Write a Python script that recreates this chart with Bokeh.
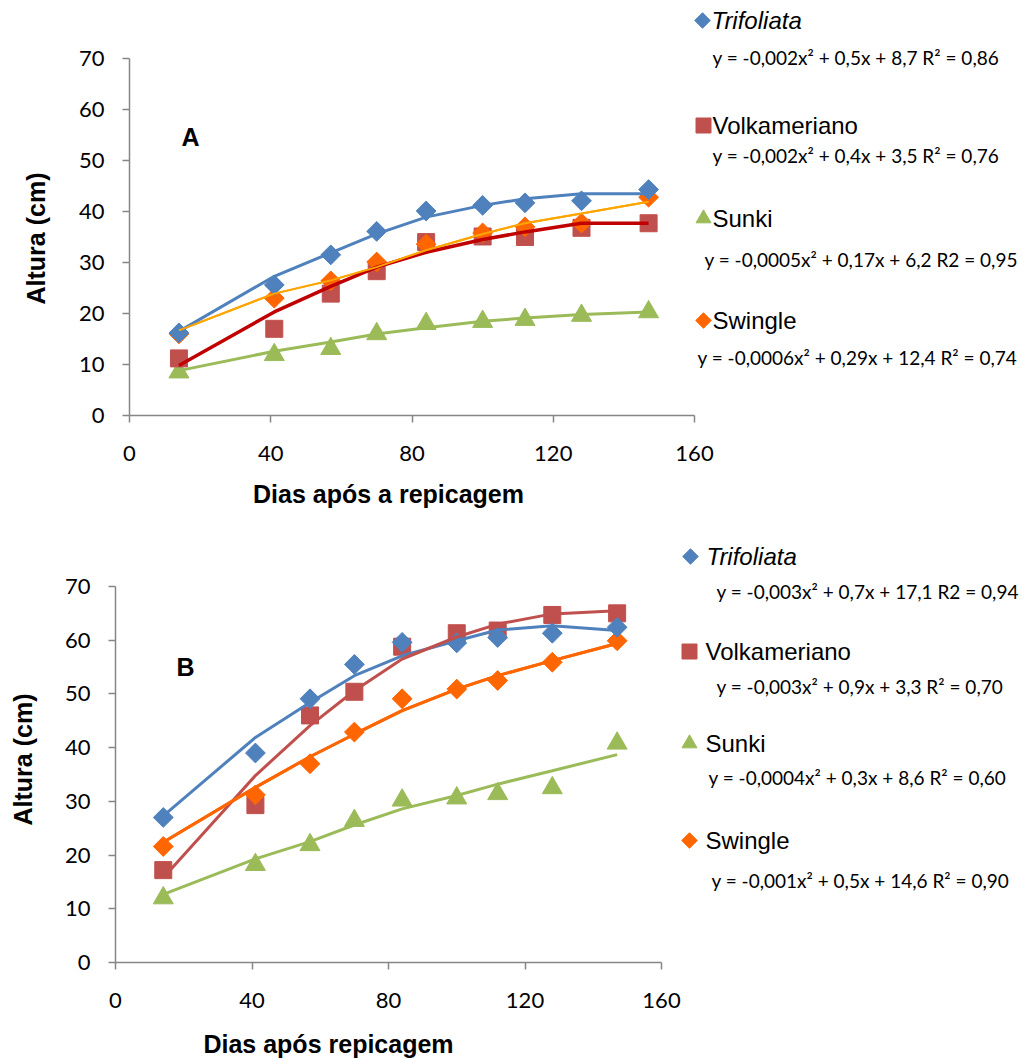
import math
from bokeh.plotting import figure
from bokeh.layouts import column
from bokeh.models import Range1d, FixedTicker, Label, LinearAxis
from bokeh.embed import file_html
from bokeh.resources import INLINE

# ---------------- data ----------------
days = [14, 41, 57, 70, 84, 100, 112, 128, 147]
series_names = ["Trifoliata", "Volkameriano", "Sunki", "Swingle"]

# Panel A observed
a_trifoliata = [16.2, 25.6, 31.5, 36.1, 40.1, 41.2, 41.7, 42.1, 44.3]
a_volkameriano = [11.2, 17.0, 23.9, 28.3, 34.0, 35.1, 35.0, 36.8, 37.7]
a_sunki = [8.5, 11.9, 13.1, 16.0, 18.0, 18.4, 18.8, 19.6, 20.3]
a_swingle = [16.0, 23.0, 26.4, 30.1, 33.6, 35.8, 37.0, 37.7, 42.8]
# Panel A trend lines
a_trifoliata_fit = [16.5, 27.3, 31.9, 35.6, 38.9, 41.2, 42.5, 43.5, 43.5]
a_volkameriano_fit = [9.8, 20.3, 25.3, 29.1, 32.0, 34.5, 36.0, 37.7, 37.7]
a_sunki_fit = [8.8, 12.6, 14.4, 16.0, 17.2, 18.5, 19.1, 19.8, 20.3]
a_swingle_fit = [16.7, 23.9, 26.5, 29.1, 32.4, 35.6, 37.7, 39.6, 41.9]
a_equations = [
    "y = -0,002x\u00b2 + 0,5x + 8,7 R\u00b2 = 0,86",
    "y = -0,002x\u00b2 + 0,4x + 3,5 R\u00b2 = 0,76",
    "y = -0,0005x\u00b2 + 0,17x + 6,2 R2 = 0,95",
    "y = -0,0006x\u00b2 + 0,29x + 12,4 R\u00b2 = 0,74",
]

# Panel B observed
b_trifoliata = [27.0, 39.0, 49.1, 55.5, 59.6, 59.5, 60.5, 61.3, 62.4]
b_volkameriano = [17.2, 29.3, 46.0, 50.4, 58.8, 61.3, 61.8, 64.7, 65.0]
b_sunki = [12.0, 18.2, 21.9, 26.4, 30.2, 30.6, 31.4, 32.5, 40.8]
b_swingle = [21.6, 31.2, 37.0, 42.9, 49.1, 50.9, 52.5, 55.9, 59.9]
# Panel B trend lines
b_trifoliata_fit = [27.3, 41.9, 48.4, 53.4, 57.1, 59.9, 61.9, 62.7, 61.8]
b_volkameriano_fit = [15.8, 34.8, 44.1, 50.6, 56.5, 60.6, 63.0, 64.9, 65.5]
b_sunki_fit = [12.7, 19.3, 22.5, 25.6, 28.6, 31.1, 33.2, 35.7, 38.7]
b_swingle_fit = [22.4, 32.6, 38.3, 42.5, 46.9, 50.9, 53.4, 56.2, 59.4]
b_equations = [
    "y = -0,003x\u00b2 + 0,7x + 17,1 R2 = 0,94",
    "y = -0,003x\u00b2 + 0,9x + 3,3 R\u00b2 = 0,70",
    "y = -0,0004x\u00b2 + 0,3x + 8,6 R\u00b2 = 0,60",
    "y = -0,001x\u00b2 + 0,5x + 14,6 R\u00b2 = 0,90",
]

x_ticks = [0, 40, 80, 120, 160]
y_ticks = [0, 10, 20, 30, 40, 50, 60, 70]

C_BLUE = "#4F81BD"
C_RED = "#C0504D"
C_GREEN = "#9BBB59"
C_ORANGE = "#FF6600"

TICK_FONT = "Lato"
ARIAL = "Liberation Sans"
AXIS_GRAY = "#868686"
DIAMOND_ANGLE = math.pi / 4


def style_axis(ax, ticks, bounds, standoff):
    ax.ticker = FixedTicker(ticks=ticks)
    ax.bounds = bounds
    ax.fixed_location = 0
    ax.axis_line_color = AXIS_GRAY
    ax.axis_line_width = 1.5
    ax.major_tick_line_color = AXIS_GRAY
    ax.major_tick_line_width = 1.5
    ax.major_tick_out = 7
    ax.major_tick_in = 0
    ax.minor_tick_line_color = None
    ax.major_label_text_font = TICK_FONT
    ax.major_label_text_font_size = "22px"
    ax.major_label_text_color = "#000000"
    ax.major_label_standoff = standoff


def make_panel(geom, xtitle, obs, fits, fit_styles, letter, title_pos, legend_geom, equations):
    # geom: figure height, pixel x of day 0, pixel span of 0..160, pixel y of 0 cm, pixel span of 0..70
    height, x0, xspan, y0, yspan = geom
    W = 1026
    kx = 160.0 / xspan
    ky = 70.0 / yspan
    p = figure(width=W, height=height, frame_width=W, frame_height=height,
               x_range=Range1d(-x0 * kx, (W - x0) * kx),
               y_range=Range1d(-(height - y0) * ky, y0 * ky),
               x_axis_location=None, y_axis_location=None,
               output_backend="svg", toolbar_location=None,
               min_border_left=0, min_border_right=0, min_border_top=0, min_border_bottom=0)
    p.outline_line_color = None
    p.grid.visible = False

    xaxis = LinearAxis()
    style_axis(xaxis, x_ticks, (0, 160), 23)
    yaxis = LinearAxis()
    style_axis(yaxis, y_ticks, (0, 70), 18)
    p.add_layout(xaxis, "below")
    p.add_layout(yaxis, "left")

    # pixel (relative to this figure) -> data, used only for placing texts
    def dx(px):
        return (px - x0) * kx

    def dy(py):
        return (y0 - py) * ky

    tri, volk, sun, swi = obs
    f_tri, f_volk, f_sun, f_swi = fits
    p.line(days, f_sun, line_color=fit_styles[2][0], line_width=fit_styles[2][1])
    p.line(days, f_swi, line_color=fit_styles[3][0], line_width=fit_styles[3][1])
    p.scatter(days, sun, marker="triangle", size=20, fill_color=C_GREEN, line_color=C_GREEN)
    p.scatter(days, volk, marker="square", size=17, fill_color=C_RED, line_color=C_RED)
    p.scatter(days, swi, marker="square", angle=DIAMOND_ANGLE, size=14,
              fill_color=C_ORANGE, line_color=C_ORANGE)
    p.scatter(days, tri, marker="square", angle=DIAMOND_ANGLE, size=14,
              fill_color=C_BLUE, line_color=C_BLUE)
    p.line(days, f_tri, line_color=fit_styles[0][0], line_width=fit_styles[0][1])
    p.line(days, f_volk, line_color=fit_styles[1][0], line_width=fit_styles[1][1])
    p.line(days, f_swi, line_color=fit_styles[3][0], line_width=fit_styles[3][1])

    lx, ly, xtx, xty, ytx, yty = title_pos
    p.add_layout(Label(x=dx(lx), y=dy(ly), text=letter, text_font=ARIAL,
                       text_font_style="bold", text_font_size="25px", text_align="center",
                       text_baseline="middle", text_color="#000000"))
    p.add_layout(Label(x=dx(xtx), y=dy(xty), text=xtitle, text_font=ARIAL,
                       text_font_style="bold", text_font_size="25px", text_align="center",
                       text_baseline="middle", text_color="#000000"))
    p.add_layout(Label(x=dx(ytx), y=dy(yty), text="Altura (cm)", text_font=ARIAL, angle=math.pi / 2,
                       text_font_style="bold", text_font_size="25px", text_align="center",
                       text_baseline="middle", text_color="#000000"))

    # legend with equations
    markers = ["square", "square", "triangle", "square"]
    angles = [DIAMOND_ANGLE, 0, 0, DIAMOND_ANGLE]
    sizes = [11, 15, 15, 11]
    colors = [C_BLUE, C_RED, C_GREEN, C_ORANGE]
    for i, name in enumerate(series_names):
        mx, my, tx, ex, ey = legend_geom[i]
        p.scatter([dx(mx)], [dy(my)], marker=markers[i], angle=angles[i], size=sizes[i],
                  fill_color=colors[i], line_color=colors[i])
        p.add_layout(Label(x=dx(tx), y=dy(my), text=name, text_font=ARIAL, text_font_size="24px",
                           text_font_style="italic" if i == 0 else "normal",
                           text_baseline="middle", text_align="left", text_color="#000000"))
        p.add_layout(Label(x=dx(ex), y=dy(ey), text=equations[i], text_font=TICK_FONT,
                           text_font_size="19px", text_baseline="middle", text_align="left",
                           text_color="#000000"))
    return p


pA = make_panel((520, 129, 565, 415, 357), "Dias após a repicagem",
                (a_trifoliata, a_volkameriano, a_sunki, a_swingle),
                (a_trifoliata_fit, a_volkameriano_fit, a_sunki_fit, a_swingle_fit),
                [(C_BLUE, 3), ("#C00000", 3.5), (C_GREEN, 3), ("#FFA500", 2)],
                "A", (190, 136, 388, 493, 35, 238),
                [(702, 20, 711, 712, 57), (703, 125, 712, 712, 155), (703, 218, 712, 704, 259),
                 (703, 320, 712, 697, 357)],
                a_equations)

pB = make_panel((539, 115, 546, 442, 376), "Dias após repicagem",
                (b_trifoliata, b_volkameriano, b_sunki, b_swingle),
                (b_trifoliata_fit, b_volkameriano_fit, b_sunki_fit, b_swingle_fit),
                [(C_BLUE, 3), (C_RED, 3), (C_GREEN, 3), (C_ORANGE, 3)],
                "B", (185, 146, 328, 523, 22, 239),
                [(690, 36, 706, 716, 71), (689, 131, 705, 716, 166), (689, 223, 705, 708, 257),
                 (689, 320, 705, 711, 360)],
                b_equations)

layout = column(pA, pB)
open("out.html", "w").write(file_html(layout, INLINE))
